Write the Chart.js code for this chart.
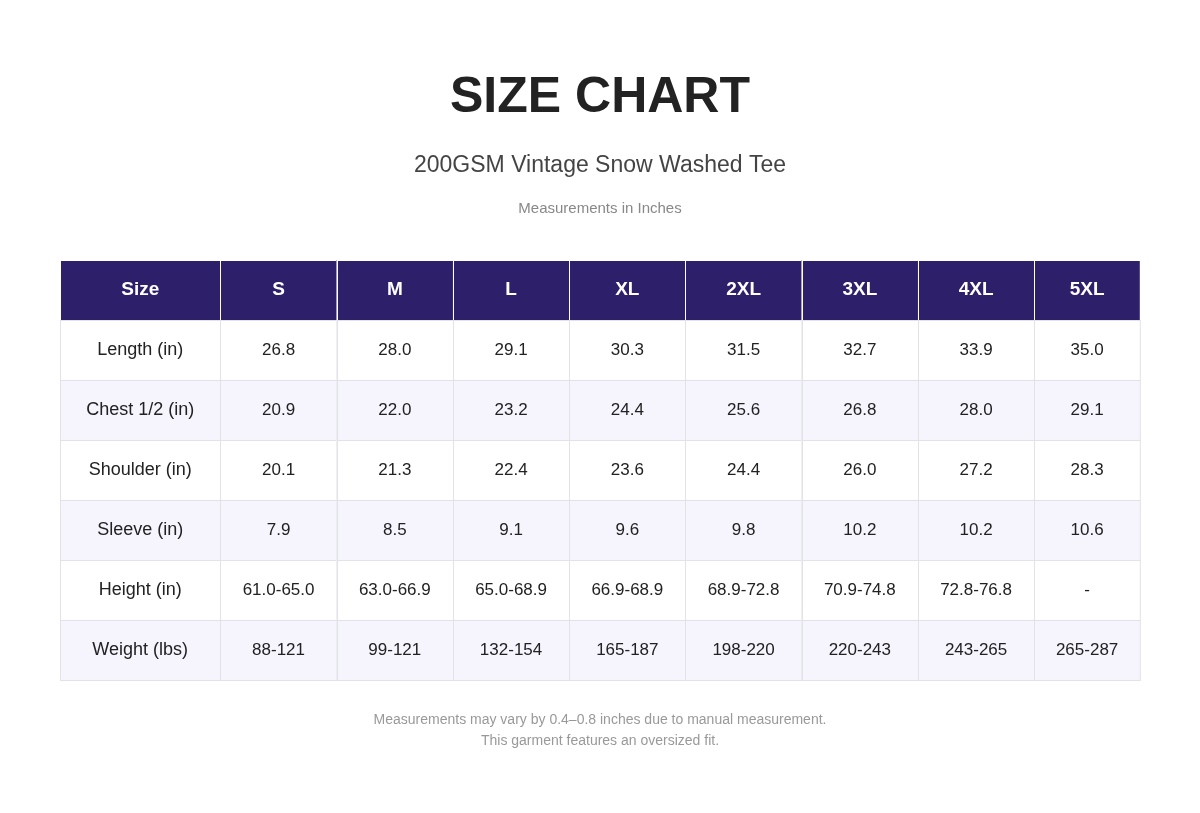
<!DOCTYPE html>
<html>
<head>
<meta charset="utf-8">
<script src="https://cdn.jsdelivr.net/npm/chart.js@4"></script>
<style>
  html, body { margin: 0; padding: 0; background: #fff; }
  #wrap { width: 1200px; height: 813px; }
</style>
</head>
<body>
<div id="wrap"><canvas id="chart"></canvas></div>
<script>
const sizes = ["S", "M", "L", "XL", "2XL", "3XL", "4XL", "5XL"];
const rowLabels = ["Length (in)", "Chest 1/2 (in)", "Shoulder (in)", "Sleeve (in)", "Height (in)", "Weight (lbs)"];
const length = ["26.8", "28.0", "29.1", "30.3", "31.5", "32.7", "33.9", "35.0"];
const chest = ["20.9", "22.0", "23.2", "24.4", "25.6", "26.8", "28.0", "29.1"];
const shoulder = ["20.1", "21.3", "22.4", "23.6", "24.4", "26.0", "27.2", "28.3"];
const sleeve = ["7.9", "8.5", "9.1", "9.6", "9.8", "10.2", "10.2", "10.6"];
const height = ["61.0-65.0", "63.0-66.9", "65.0-68.9", "66.9-68.9", "68.9-72.8", "70.9-74.8", "72.8-76.8", "-"];
const weight = ["88-121", "99-121", "132-154", "165-187", "198-220", "220-243", "243-265", "265-287"];
const rows = [length, chest, shoulder, sleeve, height, weight];

// column edges on the x scale (first column is wider, last is narrower)
const colEdges = [0, 1.38, 2.38, 3.38, 4.38, 5.38, 6.38, 7.38, 8.38, 9.29];
const yLabels = ["Size", ...rowLabels];

const points = [];
yLabels.forEach((r, ri) => {
  for (let c = 0; c < colEdges.length - 1; c++) {
    points.push({ x: (colEdges[c] + colEdges[c + 1]) / 2, y: r });
  }
});

const FONT = "Liberation Sans, Arial, sans-serif";

const tablePlugin = {
  id: "table",
  afterDatasetsDraw(chart) {
    const { ctx, scales: { x, y } } = chart;
    const half = (y.getPixelForValue(1) - y.getPixelForValue(0)) / 2;
    ctx.save();
    yLabels.forEach((label, ri) => {
      const cy = y.getPixelForValue(ri);
      const top = cy - half, bottom = cy + half;
      const texts = ri === 0 ? ["Size", ...sizes] : [label, ...rows[ri - 1]];
      for (let c = 0; c < colEdges.length - 1; c++) {
        const l = x.getPixelForValue(colEdges[c]);
        const r = x.getPixelForValue(colEdges[c + 1]);
        ctx.fillStyle = ri === 0 ? "#2e1f6b" : (ri % 2 === 0 ? "#f6f4fd" : "#ffffff");
        ctx.fillRect(l, top, r - l, bottom - top);
        ctx.strokeStyle = ri === 0 ? "#ffffff" : "#e2e2e8";
        ctx.lineWidth = 1;
        ctx.strokeRect(Math.round(l) + 0.5, Math.round(top) + 0.5, r - l, bottom - top);
        ctx.fillStyle = ri === 0 ? "#ffffff" : "#222222";
        ctx.font = ri === 0 ? `bold 19px ${FONT}` : `${c === 0 ? 18 : 17}px ${FONT}`;
        ctx.textAlign = "center";
        ctx.textBaseline = "middle";
        ctx.fillText(texts[c], (l + r) / 2, cy);
      }
    });
    // titles and notes
    const cx = chart.width / 2;
    ctx.textAlign = "center";
    ctx.textBaseline = "middle";
    ctx.fillStyle = "#222";
    ctx.font = `bold 50px ${FONT}`;
    ctx.fillText("SIZE CHART", cx, 98);
    ctx.fillStyle = "#444";
    ctx.font = `23px ${FONT}`;
    ctx.fillText("200GSM Vintage Snow Washed Tee", cx, 166);
    ctx.fillStyle = "#888";
    ctx.font = `15px ${FONT}`;
    ctx.fillText("Measurements in Inches", cx, 209);
    ctx.font = `14px ${FONT}`;
    ctx.fillStyle = "#999";
    ctx.fillText("Measurements may vary by 0.4\u20130.8 inches due to manual measurement.", cx, 720);
    ctx.fillText("This garment features an oversized fit.", cx, 741);
    ctx.restore();
  }
};

new Chart(document.getElementById("chart"), {
  type: "scatter",
  data: { datasets: [{ data: points, pointRadius: 0 }] },
  options: {
    responsive: true,
    maintainAspectRatio: false,
    animation: false,
    layout: { padding: { left: 60, right: 60, top: 260, bottom: 133 } },
    plugins: { legend: { display: false }, tooltip: { enabled: false } },
    scales: {
      x: { type: "linear", min: 0, max: colEdges[colEdges.length - 1], display: false },
      y: { type: "category", labels: yLabels, offset: true, display: false }
    }
  },
  plugins: [tablePlugin]
});
</script>
</body>
</html>
